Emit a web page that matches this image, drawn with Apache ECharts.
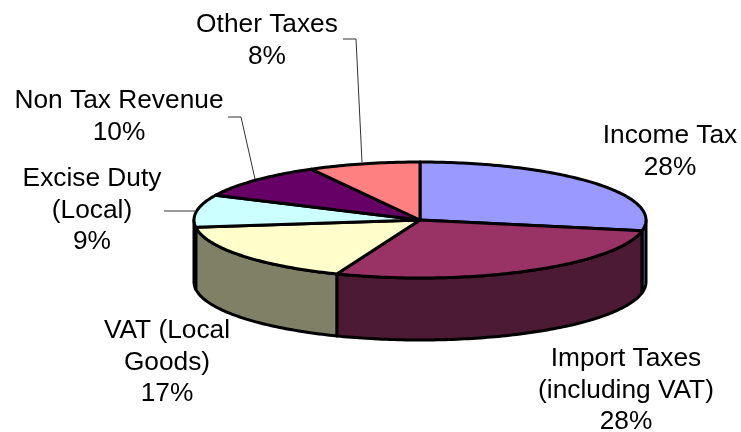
<!DOCTYPE html>
<html lang="en">

<head>
    <meta charset="UTF-8" />
    <title>Revenue shares</title>
    <style>
        html,
        body {
            padding: 0;
            margin: 0;
            background: #fff;
        }

        #chart {
            width: 741px;
            height: 432px;
        }
    </style>
</head>

<body>
    <div id="chart"></div>
    <script src="https://cdn.jsdelivr.net/npm/echarts@6/dist/echarts.min.js"></script>
    <script type="text/javascript">
        // data, clockwise from 12 o'clock
        var categories = ['Income Tax', 'Import Taxes\n(including VAT)', 'VAT (Local\nGoods)', 'Excise Duty\n(Local)', 'Non Tax Revenue', 'Other Taxes'];
        var shares = [28, 28, 17, 9, 10, 8];

        var topColors = ['#9999ff', '#993366', '#ffffcc', '#ccffff', '#660066', '#ff8080'];
        var sideColors = ['#6f7fb4', '#4c1a33', '#808066', '#668080', '#330033', '#804040'];

        // ellipse geometry of the fake 3d pie
        var cx = 420, cy = 220, rx = 226, ry = 58, depth = 62;

        // label centres, same order as categories
        var labelX = [670, 626, 167, 92, 119, 267];
        var labelY = [136, 359, 331, 179, 101, 25];
        var lineGap = 31.5;

        // leader lines, only three slices have one
        var leaders = [
            [[164, 211], [195, 211]],
            [[228, 117], [241, 117], [255, 179]],
            [[343, 39], [356, 39], [362, 162]]
        ];

        var total = shares.reduce(function (a, b) { return a + b; }, 0);

        function rimPoint(deg, dy) {
            var t = deg * Math.PI / 180;
            return [cx + rx * Math.sin(t), cy - ry * Math.cos(t) + (dy || 0)];
        }

        function arcPoints(from, to, dy) {
            var pts = [];
            var n = Math.max(2, Math.ceil(Math.abs(to - from)));
            for (var i = 0; i <= n; i++) {
                pts.push(rimPoint(from + (to - from) * i / n, dy));
            }
            return pts;
        }

        function renderSlice(params, api) {
            var before = 0;
            for (var i = 0; i < params.dataIndex; i++) {
                before += shares[i];
            }
            var start = before / total * 360;
            var end = start + api.value(0) / total * 360;
            var children = [];

            // wall, only the front half of the rim (90-270 deg) shows
            var a = Math.max(start, 90), b = Math.min(end, 270);
            if (b > a) {
                var wall = arcPoints(a, b, 0).concat(arcPoints(b, a, depth));
                children.push({
                    type: 'polygon',
                    shape: { points: wall },
                    style: { fill: sideColors[params.dataIndex], stroke: '#000', lineWidth: 3, lineJoin: 'round' }
                });
            }

            var top = [[cx, cy]].concat(arcPoints(start, end, 0));
            children.push({
                type: 'polygon',
                z2: 5,
                shape: { points: top },
                style: { fill: topColors[params.dataIndex], stroke: '#000', lineWidth: 3, lineJoin: 'round' }
            });
            return { type: 'group', children: children };
        }

        var labelGraphics = categories.map(function (name, i) {
            return {
                type: 'text',
                x: labelX[i],
                y: labelY[i] - lineGap / 2,
                style: {
                    text: name + '\n' + shares[i] + '%',
                    fill: '#000',
                    font: '26.3px "Liberation Sans", Arial, sans-serif',
                    lineHeight: lineGap,
                    align: 'center',
                    verticalAlign: 'top'
                }
            };
        });

        var leaderGraphics = leaders.map(function (pts) {
            return {
                type: 'polyline',
                shape: { points: pts },
                style: { stroke: '#333', lineWidth: 1, fill: null }
            };
        });

        var chart = echarts.init(document.getElementById('chart'), null, { renderer: 'canvas' });
        chart.setOption({
            backgroundColor: '#fff',
            animation: false,
            graphic: leaderGraphics.concat(labelGraphics),
            series: [{
                type: 'custom',
                coordinateSystem: 'none',
                silent: true,
                data: shares.map(function (v, i) { return { name: categories[i], value: [v] }; }),
                renderItem: renderSlice
            }]
        });
    </script>
</body>

</html>
